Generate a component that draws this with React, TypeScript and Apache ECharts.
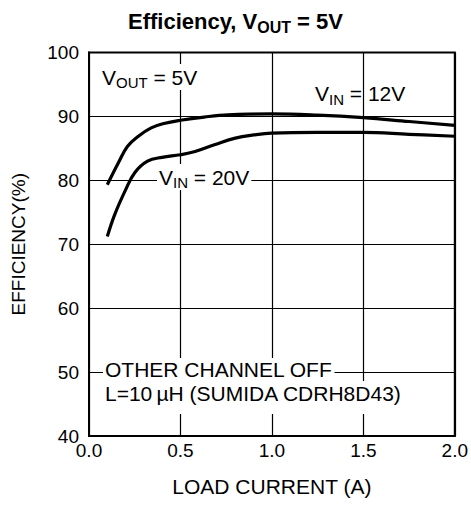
import React, { useEffect, useRef } from "react";
import * as echarts from "echarts";

const xTicks = [0, 0.5, 1.0, 1.5, 2.0];
const yTicks = [40, 50, 60, 70, 80, 90, 100];

const vin12X = [0.1, 0.16, 0.21, 0.27, 0.34, 0.41, 0.5, 0.63, 0.76, 1.0, 1.25, 1.5, 1.75, 2.0];
const vin12Y = [79.3, 82.7, 85.3, 86.9, 88.2, 88.9, 89.4, 89.9, 90.25, 90.4, 90.2, 89.8, 89.2, 88.6];

const vin20X = [0.1, 0.14, 0.2, 0.25, 0.32, 0.4, 0.5, 0.58, 0.69, 0.8, 0.9, 1.0, 1.25, 1.5, 1.75, 2.0];
const vin20Y = [71.2, 74.6, 78.5, 81.2, 83.0, 83.6, 84.0, 84.5, 85.6, 86.6, 87.1, 87.4, 87.5, 87.5, 87.2, 86.9];

const FONT = "Liberation Sans, Arial, Helvetica, sans-serif";

export default function App() {
  const ref = useRef<HTMLDivElement>(null);
  useEffect(() => {
    if (!ref.current) return;
    const chart = echarts.init(ref.current, undefined, { renderer: "svg" });
    const main = { fontSize: 21, fontFamily: FONT, color: "#000", lineHeight: 26, verticalAlign: "middle" };
    const sub = { fontSize: 15, fontFamily: FONT, color: "#000", lineHeight: 14, verticalAlign: "bottom" };
    const rich = { m: main, s: sub };
    chart.setOption({
      animation: false,
      backgroundColor: "#fff",
      title: {
        left: "center",
        top: 2,
        text: "{b|Efficiency, V}{bs|OUT}{b| = 5V}",
        textStyle: {
          rich: {
            b: { fontSize: 22, fontWeight: "bold", fontFamily: FONT, color: "#000", lineHeight: 28, verticalAlign: "middle" },
            bs: { fontSize: 16, fontWeight: "bold", fontFamily: FONT, color: "#000", lineHeight: 15, verticalAlign: "bottom" },
          },
        },
      },
      grid: {
        left: 89,
        right: 15,
        top: 52.5,
        bottom: 70,
        show: true,
        borderColor: "#000",
        borderWidth: 2,
        backgroundColor: "transparent",
      },
      xAxis: {
        type: "value",
        min: 0,
        max: 2,
        interval: 0.5,
        name: "LOAD CURRENT (A)",
        nameLocation: "middle",
        nameGap: 40,
        nameTextStyle: { fontSize: 21, fontFamily: FONT, color: "#000" },
        axisLine: { show: true, lineStyle: { color: "#000", width: 2 } },
        axisTick: { show: false },
        axisLabel: {
          fontSize: 19,
          fontFamily: FONT,
          color: "#000",
          margin: 5,
          formatter: (v: number) => (xTicks.includes(v) ? v.toFixed(1) : ""),
        },
        splitLine: { show: true, lineStyle: { color: "#000", width: 1.2 } },
      },
      yAxis: {
        type: "value",
        min: 40,
        max: 100,
        interval: 10,
        name: "EFFICIENCY(%)",
        nameLocation: "middle",
        nameGap: 61,
        nameRotate: 90,
        nameTextStyle: { fontSize: 19, fontFamily: FONT, color: "#000" },
        axisLine: { show: true, lineStyle: { color: "#000", width: 2 } },
        axisTick: { show: false },
        axisLabel: {
          fontSize: 19,
          fontFamily: FONT,
          color: "#000",
          margin: 10,
          formatter: (v: number) => (yTicks.includes(v) ? String(v) : ""),
        },
        splitLine: { show: true, lineStyle: { color: "#000", width: 1.2 } },
      },
      series: [
        {
          name: "VIN = 12V",
          type: "line",
          smooth: 0.4,
          showSymbol: false,
          data: vin12X.map((x, i) => [x, vin12Y[i]]),
          lineStyle: { color: "#000", width: 3.2 },
          z: 3,
        },
        {
          name: "VIN = 20V",
          type: "line",
          smooth: 0.4,
          showSymbol: false,
          data: vin20X.map((x, i) => [x, vin20Y[i]]),
          lineStyle: { color: "#000", width: 3.2 },
          z: 3,
        },
      ],
      graphic: [
        {
          type: "text",
          left: 102,
          top: 64,
          z: 10,
          style: { text: "{m|V}{s|OUT}{m| = 5V}", rich, backgroundColor: "#fff" },
        },
        {
          type: "text",
          left: 315,
          top: 83,
          z: 10,
          style: { text: "{m|V}{s|IN}{m| = 12V}", rich },
        },
        {
          type: "text",
          left: 157,
          top: 164,
          z: 10,
          style: { text: "{m|V}{s|IN}{m| = 20V}", rich, backgroundColor: "#fff", padding: [0, 2, 0, 2] },
        },
        {
          type: "text",
          left: 103,
          top: 358,
          z: 10,
          style: {
            text: "OTHER CHANNEL OFF",
            fontSize: 21,
            fontFamily: FONT,
            fill: "#000",
            backgroundColor: "#fff",
            padding: [1, 2, 1, 2],
          },
        },
        {
          type: "text",
          left: 103,
          top: 381,
          z: 10,
          style: {
            text: "L=10\u2009\u00b5H (SUMIDA CDRH8D43)",
            fontSize: 21,
            fontFamily: FONT,
            fill: "#000",
            backgroundColor: "#fff",
            padding: [2, 3, 10, 2],
          },
        },
      ],
    });
    return () => chart.dispose();
  }, []);
  return <div ref={ref} style={{ width: 471, height: 506, position: "absolute", left: 0, top: 0 }} />;
}
